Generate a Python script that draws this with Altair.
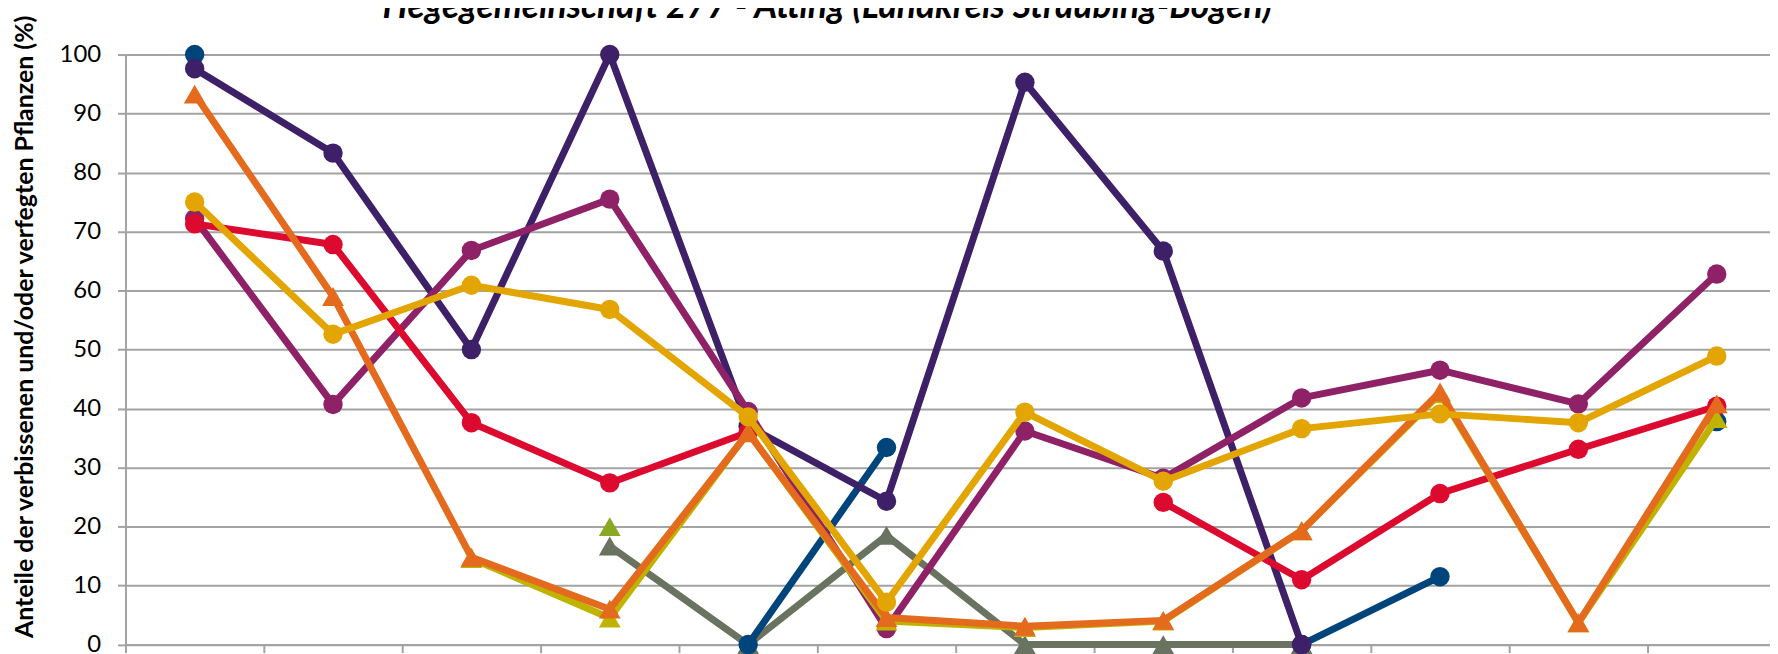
import altair as alt
import pandas as pd

# ---------------- data ----------------
YEARS = ["1991", "1994", "1997", "2000", "2003", "2006",
         "2009", "2012", "2015", "2018", "2021", "2024"]
TITLE = "Hegegemeinschaft 277 - Atting (Landkreis Straubing-Bogen)"
Y_TITLE = "Anteile der verbissenen und/oder verfegten Pflanzen (%)"
Y_TICKS = [0, 10, 20, 30, 40, 50, 60, 70, 80, 90, 100]

N = None
gray_vals = [N, N, N, 16.7, 0, 18.5, 0, 0, 0, N, N, N]
green_vals = [N, N, N, 20.0, N, N, N, N, N, N, N, N]
blue_vals = [100, N, N, N, 0, 33.4, N, N, 0, 11.5, N, 37.8]
purple_vals = [97.6, 83.3, 50.0, 100, 37.0, 24.3, 95.3, 66.7, 0, N, N, N]
magenta_vals = [72.2, 40.7, 66.8, 75.5, 39.5, 2.7, 36.2, 28.2, 41.8, 46.5, 40.8, 62.8]
red_vals = [71.3, 67.8, 37.6, 27.4, 36.0, N, N, 24.1, 11.0, 25.6, 33.1, 40.4]
olive_vals = [N, N, 14.6, 4.5, 36.0, 4.0, 2.9, 4.0, 19.3, 42.5, 3.7, 38.3]
orange_vals = [93.3, 59.0, 14.8, 6.0, 35.9, 4.6, 3.1, 4.1, 19.3, 42.8, 3.7, 40.8]
yellow_vals = [75.0, 52.6, 60.9, 56.8, 38.6, 7.2, 39.4, 27.7, 36.6, 39.1, 37.6, 48.9]

# drawing order (first = bottom)
SERIES = ["Nadelholz gesamt", "Edellaubholz", "Fichte", "Tanne", "Buche",
          "Eiche", "Sonstiges Laubholz", "Laubholz gesamt", "Kiefer"]
VALUES = [gray_vals, green_vals, blue_vals, purple_vals, magenta_vals,
          red_vals, olive_vals, orange_vals, yellow_vals]
COLORS = ["#69735F", "#88AA22", "#00447C", "#3D2068", "#8F2167",
          "#DD0A2F", "#BFB300", "#E46B1E", "#E3A502"]
SHAPES = ["triangle-up", "triangle-up", "circle", "circle", "circle",
          "circle", "triangle-up", "triangle-up", "circle"]

rows = []
for name, vals in zip(SERIES, VALUES):
    seg = 0
    prev = False
    for yr, v in zip(YEARS, vals):
        if v is None:
            if prev:
                seg += 1
            prev = False
            continue
        rows.append({"series": name, "jahr": yr, "wert": v, "seg": f"{name}-{seg}"})
        prev = True
df = pd.DataFrame(rows)

# ---------------- layout ----------------
GRAY = "#A3A3A3"
PLOT_W = 1652          # visible plot width
BAND_RANGE = 1668      # 12 categories, last one partly off-screen
PLOT_H = 592.7

x_enc = alt.X(
    "jahr:O",
    sort=YEARS,
    scale=alt.Scale(domain=YEARS, range=[0, BAND_RANGE], paddingInner=0, paddingOuter=0),
    axis=alt.Axis(title=None, tickBand="extent", tickSize=8, tickWidth=2, tickColor=GRAY,
                  domainColor=GRAY, domainWidth=2, grid=False, labels=False),
)
y_enc = alt.Y(
    "wert:Q",
    scale=alt.Scale(domain=[0, 100], nice=False, zero=True),
    axis=alt.Axis(values=Y_TICKS, title=Y_TITLE, titleFont="Lato", titleFontSize=25,
                  titleFontWeight="bold", titleColor="black", titleX=-93, titleY=273,
                  titleAlign="center", titleBaseline="alphabetic", titleAngle=270,
                  labelFont="Lato", labelFontSize=24, labelColor="black", labelPadding=17,
                  tickSize=8, tickWidth=2, tickColor=GRAY, domainColor=GRAY, domainWidth=2,
                  grid=True, gridColor=GRAY, gridWidth=2),
)
color_enc = alt.Color("series:N", scale=alt.Scale(domain=SERIES, range=COLORS), legend=None)
shape_enc = alt.Shape("series:N", scale=alt.Scale(domain=SERIES, range=SHAPES), legend=None)

base = alt.Chart(df).encode(x=x_enc, y=y_enc, color=color_enc)

layers = []
for name, shp in zip(SERIES, SHAPES):
    sub = base.transform_filter(alt.datum.series == name)
    layers.append(sub.mark_line(strokeWidth=7, strokeJoin="round", strokeCap="round")
                  .encode(detail="seg:N"))
    size = 380 if shp == "circle" else 480
    layers.append(sub.mark_point(filled=True, opacity=1, size=size).encode(shape=shape_enc))

title_layer = alt.Chart(alt.Data(values=[{"t": TITLE}])).mark_text(
    font="Lato", fontSize=35.5, fontWeight="bold", fontStyle="italic",
    align="center", baseline="alphabetic", color="black",
).encode(x=alt.value(705), y=alt.value(-37), text="t:N")

chart = alt.layer(*layers, title_layer).properties(
    width=PLOT_W,
    height=PLOT_H,
    padding={"left": 118, "top": 45.3, "right": 0, "bottom": 8},
    autosize=alt.AutoSizeParams(type="none"),
    background="white",
).configure_view(strokeWidth=0)

chart.save("out.html", embed_options={"renderer": "svg", "actions": False})
